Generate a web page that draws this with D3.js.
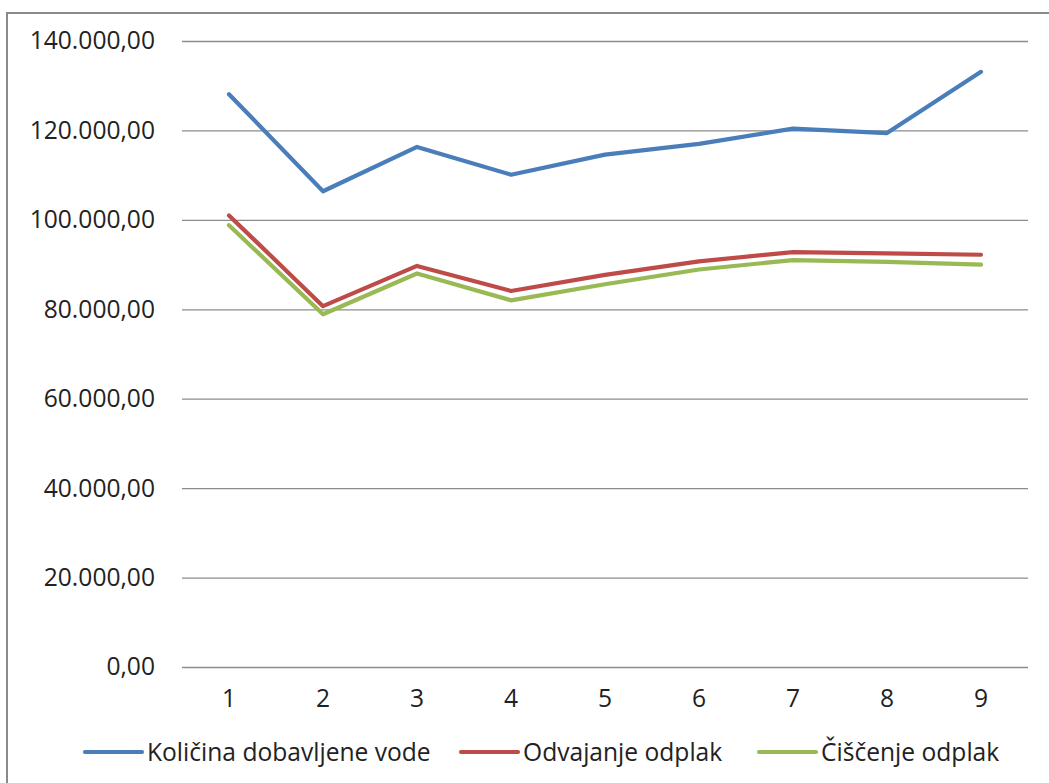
<!DOCTYPE html>
<html>
<head>
<meta charset="utf-8">
<script src="https://cdn.jsdelivr.net/npm/d3@7"></script>
<style>
  html, body { margin: 0; padding: 0; background: #fff; }
  svg { display: block; }
  text { font-family: "Open Sans", "DejaVu Sans", sans-serif; fill: #222; }
</style>
</head>
<body>
<svg id="chart" width="1049" height="783"></svg>
<script>
const categories = ["1", "2", "3", "4", "5", "6", "7", "8", "9"];
const seriesNames = ["Količina dobavljene vode", "Odvajanje odplak", "Čiščenje odplak"];
const kolicina = [128100, 106400, 116300, 110100, 114600, 117000, 120400, 119400, 133100];
const odvajanje = [101000, 80700, 89700, 84100, 87700, 90700, 92800, 92500, 92200];
const ciscenje = [98800, 78900, 88000, 82000, 85600, 88900, 91000, 90600, 90000];
const yTicks = [0, 20000, 40000, 60000, 80000, 100000, 120000, 140000];
const colors = ["#4A7EBB", "#BE4B48", "#98B954"];

const series = seriesNames.map((name, i) => ({
  name,
  color: colors[i],
  values: [kolicina, odvajanje, ciscenje][i]
}));

const svg = d3.select("#chart");
const W = 1049, H = 783;
const FS = 24.6;

// outer chart border
svg.append("rect")
  .attr("x", 7).attr("y", 13)
  .attr("width", W + 20).attr("height", H + 20)
  .attr("fill", "none").attr("stroke", "#8a8a8a").attr("stroke-width", 2);

const plot = { left: 182, right: 1028, top: 41, bottom: 667 };

const x = d3.scaleBand().domain(categories).range([plot.left, plot.right]).paddingInner(0).paddingOuter(0);
const y = d3.scaleLinear().domain([0, 140000]).range([plot.bottom, plot.top]);

const fmt = v => {
  const s = d3.format(",.2f")(v);
  return s.replace(/,/g, "#").replace(/\./g, ",").replace(/#/g, ".");
};

// gridlines + y labels
const yAxis = d3.axisLeft(y).tickValues(yTicks).tickFormat(fmt)
  .tickSize(-(plot.right - plot.left)).tickPadding(27);
const gy = svg.append("g").attr("transform", `translate(${plot.left},0)`).call(yAxis);
gy.select(".domain").remove();
gy.selectAll(".tick line").attr("stroke", "#8c8c8c").attr("stroke-width", 1.3);
gy.selectAll(".tick text").attr("font-size", FS).attr("fill", "#222")
  .style("font-family", '"Open Sans", sans-serif');

// x labels
const xAxis = d3.axisBottom(x).tickSize(0).tickPadding(23);
const gx = svg.append("g").attr("transform", `translate(0,${plot.bottom})`).call(xAxis);
gx.select(".domain").remove();
gx.selectAll(".tick text").attr("font-size", FS).attr("fill", "#222")
  .style("font-family", '"Open Sans", sans-serif');

// lines
const line = d3.line()
  .x((d, i) => x(categories[i]) + x.bandwidth() / 2)
  .y(d => y(d));

svg.append("g").selectAll("path")
  .data(series.slice().reverse())
  .join("path")
  .attr("d", d => line(d.values))
  .attr("fill", "none")
  .attr("stroke", d => d.color)
  .attr("stroke-width", 4.2)
  .attr("stroke-linejoin", "round")
  .attr("stroke-linecap", "round");

// legend
const legendY = 752;
const legendStarts = [85, 461, 759];
const leg = svg.append("g").selectAll("g").data(series).join("g")
  .attr("transform", (d, i) => `translate(${legendStarts[i]},${legendY})`);
leg.append("line")
  .attr("x1", 0).attr("x2", 57).attr("y1", 0).attr("y2", 0)
  .attr("stroke", d => d.color).attr("stroke-width", 4.2).attr("stroke-linecap", "round");
leg.append("text")
  .attr("x", 62).attr("y", 0).attr("dy", "0.35em")
  .attr("font-size", FS)
  .text(d => d.name);
</script>
</body>
</html>
